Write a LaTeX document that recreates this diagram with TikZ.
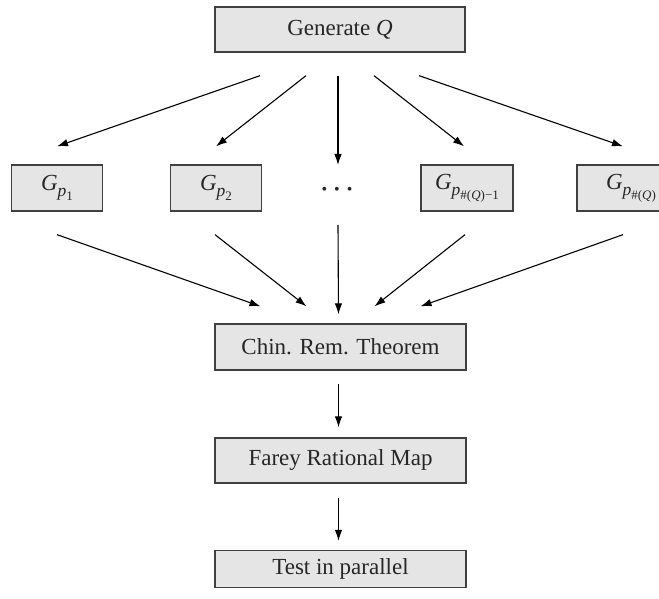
\documentclass[tikz,border=0pt]{standalone}
\usepackage{fontspec}
\setmainfont{Liberation Serif}
\usetikzlibrary{arrows.meta,calc}
\tikzset{
  box/.style={draw=black!75, fill=black!10, line width=1.3pt, minimum height=45pt,
    inner sep=0pt, text=black!85, font=\fontsize{23}{27}\selectfont},
  arr/.style={line width=1.1pt, draw=black, -{Latex[length=11pt,width=7.5pt]}},
}
\newcommand{\Gsub}[1]{\textit{G}\raisebox{-6pt}{\fontsize{17.5}{17.5}\selectfont\textit{p}\raisebox{-4pt}{\fontsize{13}{13}\selectfont #1}}}
\begin{document}
\begin{tikzpicture}[x=1pt,y=-1pt]
\useasboundingbox (0,0) rectangle (659,599);
\clip (0,0) rectangle (659,599);
% nodes
\node[box, minimum width=250pt] (gen) at (340,29.5) {Generate \textit{Q}};
\node[box, minimum width=91pt, minimum height=46pt] (g1) at (57,188) {\Gsub{1}};
\node[box, minimum width=91pt, minimum height=46pt] (g2) at (216,188) {\Gsub{2}};
\node[text=black!85, inner sep=0pt] (dots) at (337,191) {\fontsize{16}{16}\selectfont •\hspace{7pt}•\hspace{7pt}•};
\node[box, minimum width=92pt, minimum height=46pt] (g3) at (467,188) {\Gsub{\#(\textit{Q})−1}};
\node[box, minimum width=108pt, minimum height=46pt] (g4) at (631,188) {\Gsub{\#(\textit{Q})}};
\node[box, minimum width=251pt, minimum height=46pt] (chin) at (340.5,347) {Chin. Rem. Theorem};
\node[box, minimum width=251pt] (farey) at (340.5,460.5) {Farey Rational Map};
\node[box, minimum width=251pt, minimum height=37pt] (test) at (340.5,569) {Test in parallel};
% connector ends
\coordinate (o1) at ($(gen.south)+(-80,23)$);
\coordinate (o2) at ($(gen.south)+(-34,23)$);
\coordinate (o3) at ($(gen.south)+(-2,23)$);
\coordinate (o4) at ($(gen.south)+(34,23)$);
\coordinate (o5) at ($(gen.south)+(79,23)$);
\coordinate (i1) at ($(g1.north)+(0,-18)$);
\coordinate (i2) at ($(g2.north)+(0,-18)$);
\coordinate (i3) at (338,165);
\coordinate (i4) at ($(g3.north)+(-3,-18)$);
\coordinate (i5) at ($(g4.north)+(-8,-18)$);
\coordinate (p1) at ($(g1.south)+(0,23)$);
\coordinate (p2) at ($(g2.south)+(-1,23)$);
\coordinate (p3) at (338,225);
\coordinate (p4) at ($(g3.south)+(-2,23)$);
\coordinate (p5) at ($(g4.south)+(-8,23)$);
\coordinate (q1) at ($(chin.north)+(-80,-17)$);
\coordinate (q2) at ($(chin.north)+(-34,-17)$);
\coordinate (q3) at ($(chin.north)+(-2,-9)$);
\coordinate (q4) at ($(chin.north)+(34,-17)$);
\coordinate (q5) at ($(chin.north)+(80,-17)$);
\coordinate (c1) at ($(chin.south)+(-2,13)$);
\coordinate (c2) at ($(farey.north)+(-2,-10)$);
\coordinate (f1) at ($(farey.south)+(-2,14)$);
\coordinate (f2) at ($(test.north)+(-2,-9)$);
% connectors
\draw[arr] (o1) -- (i1);
\draw[arr] (o2) -- (i2);
\draw[arr] (o3) -- (i3);
\draw[arr] (o4) -- (i4);
\draw[arr] (o5) -- (i5);
\draw[arr] (p1) -- (q1);
\draw[arr] (p2) -- (q2);
\draw[arr] (p3) -- (q3);
\draw[arr] (p4) -- (q4);
\draw[arr] (p5) -- (q5);
\draw[arr] (c1) -- (c2);
\draw[arr] (f1) -- (f2);
\end{tikzpicture}
\end{document}
